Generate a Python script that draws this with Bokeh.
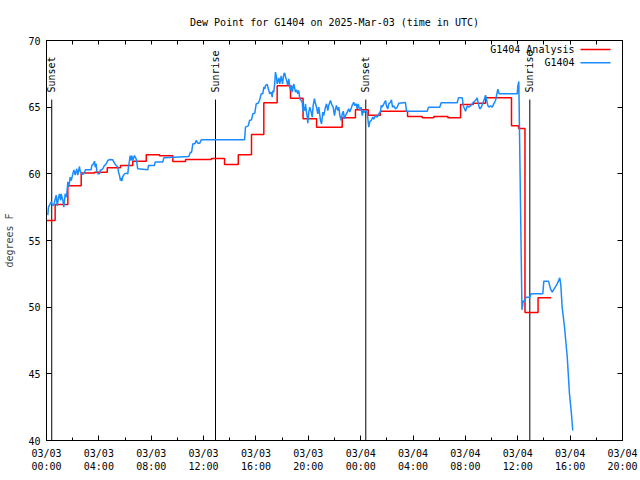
from math import pi
from bokeh.plotting import figure
from bokeh.models import Range1d, FixedTicker, LinearAxis, Label, BoxAnnotation
from bokeh.embed import file_html
from bokeh.resources import INLINE
from bokeh.core.properties import value

FONT = "DejaVu Sans Mono"
FS = "10px"
RED = "#ff0000"
BLUE = "#1a8cff"

title_text = "Dew Point for G1404 on 2025-Mar-03 (time in UTC)"
y_label = "degrees F"
series_names = ["G1404 Analysis", "G1404"]

# hours since 2025-03-03 00:00 UTC
analysis_hours = [0.0, 0.66, 1.63, 2.65, 3.67, 4.64, 5.65, 6.59, 7.62, 8.63,
                  9.65, 10.62, 12.6, 13.6, 14.65, 15.66, 16.6, 17.62, 18.64, 19.6,
                  20.63, 22.59, 23.6, 24.58, 25.5, 27.58, 28.7, 29.59, 30.66, 31.63,
                  32.6, 33.54, 35.52, 36.06, 36.55, 37.55, 38.56]
analysis_dewpoint = [56.5, 57.7, 59.1, 60.07, 60.12, 60.45, 60.63, 60.95, 61.43, 61.35,
                     60.93, 61.07, 61.15, 60.7, 61.43, 62.95, 65.33, 66.6, 65.67, 64.13,
                     63.5, 64.2, 64.8, 64.4, 64.7, 64.3, 64.2, 64.3, 64.2, 65.2,
                     65.3, 65.7, 63.6, 63.4, 49.6, 50.7, 50.7]

obs_hours = [
    0.10, 0.15, 0.36, 0.42, 0.53, 0.61, 0.74, 0.82, 0.92, 0.99,
    1.07, 1.12, 1.25, 1.32, 1.43, 1.53, 1.63, 1.70, 1.81, 1.89,
    2.01, 2.09, 2.19, 2.31, 2.39, 2.52, 2.57, 2.70, 2.77, 2.90,
    2.98, 3.41, 3.46, 3.59, 3.67, 3.72, 3.80, 3.84, 3.92, 4.05,
    4.10, 4.30, 4.43, 4.56, 4.68, 4.81, 5.06, 5.19, 5.32, 5.45,
    5.50, 5.58, 5.65, 5.71, 5.75, 5.83, 5.96, 6.09, 6.21, 6.26,
    6.34, 6.39, 6.47, 6.52, 6.59, 6.72, 6.85, 6.93, 6.97, 7.74,
    7.79, 8.25, 8.30, 8.88, 8.96, 10.87, 11.00, 11.08, 11.18, 11.33,
    11.44, 11.56, 11.71, 11.82, 15.13, 15.20, 15.41, 15.51, 15.66, 15.76,
    15.91, 16.02, 16.17, 16.27, 16.40, 16.52, 16.60, 16.68, 16.73, 16.86,
    16.98, 17.06, 17.16, 17.24, 17.29, 17.36, 17.44, 17.49, 17.57, 17.62,
    17.75, 17.82, 17.93, 18.03, 18.13, 18.20, 18.26, 18.33, 18.43, 18.51,
    18.59, 18.64, 18.72, 18.77, 18.89, 19.02, 19.10, 19.20, 19.27, 19.35,
    19.46, 19.53, 19.61, 19.66, 19.73, 19.78, 19.86, 19.92, 19.96, 20.04,
    20.11, 20.22, 20.30, 20.37, 20.47, 20.55, 20.63, 20.72, 20.80, 20.93,
    21.01, 21.11, 21.18, 21.31, 21.39, 21.49, 21.56, 21.69, 21.82, 21.90,
    22.00, 22.08, 22.15, 22.25, 22.33, 22.41, 22.51, 22.59, 22.67, 22.76,
    22.84, 22.97, 23.09, 23.17, 23.35, 23.47, 23.55, 23.66, 23.73, 23.81,
    23.93, 24.04, 24.12, 24.19, 24.24, 24.37, 24.50, 24.62, 24.70, 24.80,
    24.93, 25.00, 25.13, 25.26, 25.38, 25.51, 25.57, 25.64, 25.77, 25.90,
    25.97, 26.07, 26.15, 26.28, 26.35, 26.43, 26.53, 26.66, 26.79, 26.91,
    27.42, 27.50, 29.08, 29.18, 30.04, 30.15, 31.37, 31.47, 31.76, 31.83,
    32.01, 32.14, 32.26, 32.39, 32.52, 32.64, 32.77, 32.90, 33.02, 33.10,
    33.21, 33.31, 33.41, 33.54, 33.61, 33.71, 33.79, 33.92, 34.05, 34.17,
    34.30, 34.43, 34.48, 34.57, 35.96, 36.00, 36.08, 36.32, 36.42, 36.46,
    36.54, 36.64, 36.92, 37.01, 37.91, 37.99, 38.35, 38.50, 38.63, 39.01,
    39.21, 39.29, 39.39, 39.57, 39.78, 39.95, 40.10, 40.20,
]
obs_dewpoint = [
    56.9, 57.5, 57.9, 57.75, 57.6, 57.9, 58.4, 57.6, 58.25, 58.5,
    58.0, 58.5, 58.0, 57.5, 58.5, 58.25, 59.4, 59.0, 59.75, 59.5,
    60.0, 60.3, 59.9, 60.38, 59.9, 60.55, 60.2, 60.0, 59.95, 60.1,
    60.3, 60.3, 60.63, 60.75, 60.95, 60.5, 60.75, 60.25, 60.0, 60.0,
    60.25, 60.38, 60.63, 60.75, 61.0, 61.07, 61.05, 60.8, 60.63, 60.5,
    60.12, 59.87, 59.5, 59.7, 59.45, 59.8, 60.0, 60.05, 60.0, 60.5,
    61.0, 61.37, 61.0, 61.37, 61.0, 61.37, 61.12, 60.63, 60.38, 60.3,
    60.63, 60.63, 60.88, 60.88, 61.2, 61.3, 61.63, 61.6, 62.25, 62.25,
    62.5, 62.3, 62.3, 62.55, 62.55, 63.5, 63.6, 64.0, 64.05, 64.5,
    64.55, 65.25, 65.3, 65.5, 66.0, 66.0, 66.5, 66.37, 66.63, 66.7,
    66.25, 66.0, 66.12, 65.75, 66.25, 66.12, 66.88, 67.63, 67.25, 66.75,
    67.2, 66.75, 67.35, 66.75, 67.5, 67.55, 67.25, 67.05, 66.63, 67.12,
    66.5, 66.25, 66.63, 66.13, 66.75, 66.13, 66.3, 66.0, 66.25, 65.63,
    65.5, 65.37, 64.63, 65.0, 64.75, 65.25, 64.63, 64.25, 63.8, 64.63,
    65.0, 64.63, 64.25, 65.13, 65.63, 65.25, 65.0, 64.5, 65.0, 64.0,
    63.75, 64.63, 64.37, 65.0, 65.25, 64.75, 65.13, 65.5, 65.13, 65.0,
    64.37, 64.87, 65.13, 64.75, 65.0, 64.37, 64.0, 64.5, 64.7, 64.12,
    64.37, 64.63, 64.87, 64.63, 65.13, 65.37, 65.13, 65.25, 64.87, 65.25,
    64.75, 65.0, 64.37, 64.75, 64.6, 64.75, 64.6, 63.5, 63.9, 64.0,
    64.25, 64.1, 64.37, 64.25, 64.5, 64.63, 65.13, 65.0, 65.25, 65.5,
    65.1, 64.87, 65.25, 65.37, 65.55, 65.0, 65.1, 64.87, 65.0, 65.3,
    65.35, 64.7, 64.7, 65.0, 65.0, 65.33, 65.33, 65.7, 65.7, 65.13,
    64.7, 65.1, 65.0, 65.1, 65.25, 65.4, 65.5, 65.7, 65.13, 64.87,
    65.0, 65.25, 65.5, 65.9, 65.6, 65.13, 65.0, 65.1, 65.0, 65.25,
    65.5, 66.13, 66.35, 66.0, 66.0, 66.55, 66.93, 49.8, 50.5, 50.4,
    50.55, 50.75, 50.75, 51.0, 51.0, 51.95, 51.95, 51.37, 51.13, 51.75,
    52.2, 51.63, 50.0, 48.5, 46.25, 43.5, 42.0, 40.75,
]
assert len(obs_hours) == len(obs_dewpoint)
assert len(analysis_hours) == len(analysis_dewpoint)

event_names = ["Sunset", "Sunrise", "Sunset", "Sunrise"]
event_hours = [0.40, 12.91, 24.39, 36.92]

x_tick_hours = [0, 4, 8, 12, 16, 20, 24, 28, 32, 36, 40, 44]
x_tick_labels = ["03/03\n00:00", "03/03\n04:00", "03/03\n08:00", "03/03\n12:00",
                 "03/03\n16:00", "03/03\n20:00", "03/04\n00:00", "03/04\n04:00",
                 "03/04\n08:00", "03/04\n12:00", "03/04\n16:00", "03/04\n20:00"]
x_minor_hours = list(range(0, 45, 2))
y_ticks = [40, 45, 50, 55, 60, 65, 70]

X0, X1 = 0, 44
Y0, Y1 = 40, 70
LABEL_BASE = 66.1     # where the rotated sun labels start
EVENT_TOP = 65.57     # top of the sun lines

p = figure(width=640, height=480, output_backend="svg", toolbar_location=None,
           x_range=Range1d(X0, X1), y_range=Range1d(Y0, Y1),
           min_border_left=46, min_border_right=18, min_border_top=40,
           min_border_bottom=40, title=title_text)
p.xgrid.visible = False
p.ygrid.visible = False
p.outline_line_color = "black"
p.outline_line_alpha = 1.0
p.background_fill_color = "white"
p.border_fill_color = "white"

p.title.align = "center"
p.title.text_font = FONT
p.title.text_font_size = FS
p.title.text_font_style = "normal"
p.title.text_color = "black"
p.title.standoff = 26


def style_axis(ax):
    ax.major_tick_in = 5
    ax.major_tick_out = 0
    ax.minor_tick_in = 3
    ax.minor_tick_out = 0
    ax.axis_line_color = "black"
    ax.major_tick_line_color = "black"
    ax.minor_tick_line_color = "black"
    ax.major_label_text_font = FONT
    ax.major_label_text_font_size = FS
    ax.major_label_text_color = "black"


xa = p.xaxis[0]
xa.ticker = FixedTicker(ticks=x_tick_hours, minor_ticks=x_minor_hours)
xa.major_label_overrides = {h: lab for h, lab in zip(x_tick_hours, x_tick_labels)}
style_axis(xa)
xa.major_label_standoff = 7

ya = p.yaxis[0]
ya.ticker = FixedTicker(ticks=y_ticks, minor_ticks=[])
style_axis(ya)
ya.major_label_standoff = 6
ya.axis_label = y_label
ya.axis_label_text_font = FONT
ya.axis_label_text_font_size = FS
ya.axis_label_text_font_style = "normal"
ya.axis_label_standoff = 10

# mirrored tick marks (no labels): all positions given as minor ticks
top = LinearAxis(ticker=FixedTicker(ticks=[], minor_ticks=x_minor_hours))
style_axis(top)
top.minor_tick_in = 4
top.major_label_standoff = 0
p.add_layout(top, "above")
right = LinearAxis(ticker=FixedTicker(ticks=[], minor_ticks=y_ticks))
style_axis(right)
right.minor_tick_in = 5
right.major_label_standoff = 0
p.add_layout(right, "right")

# sunrise / sunset markers
p.segment(x0=event_hours, y0=[Y0] * len(event_hours), x1=event_hours,
          y1=[EVENT_TOP] * len(event_hours), line_color="black", line_width=1)
p.text(x=event_hours, y=[LABEL_BASE] * len(event_hours), text=event_names,
       angle=pi / 2, text_align="left", text_baseline="middle",
       text_font=value(FONT), text_font_size=value(FS), text_color="black")

# series
p.step(analysis_hours, analysis_dewpoint, mode="after", line_color=RED, line_width=1.5)
p.line(obs_hours, obs_dewpoint, line_color=BLUE, line_width=1.5)

# gnuplot-style key: text on the left, sample line on the right (frame screen units)
key_rows = [(391, RED), (377.7, BLUE)]
for name, (ky, col) in zip(series_names, key_rows):
    p.add_layout(Label(x=528, y=ky, x_units="screen", y_units="screen", text=name,
                       text_align="right", text_baseline="middle",
                       text_font=FONT, text_font_size=FS, text_color="black"))
    p.add_layout(BoxAnnotation(left=534, right=564, bottom=ky - 0.75, top=ky + 0.75,
                               left_units="screen", right_units="screen",
                               top_units="screen", bottom_units="screen",
                               fill_color=col, fill_alpha=1.0, line_alpha=0))

open("out.html", "w").write(file_html(p, INLINE))
